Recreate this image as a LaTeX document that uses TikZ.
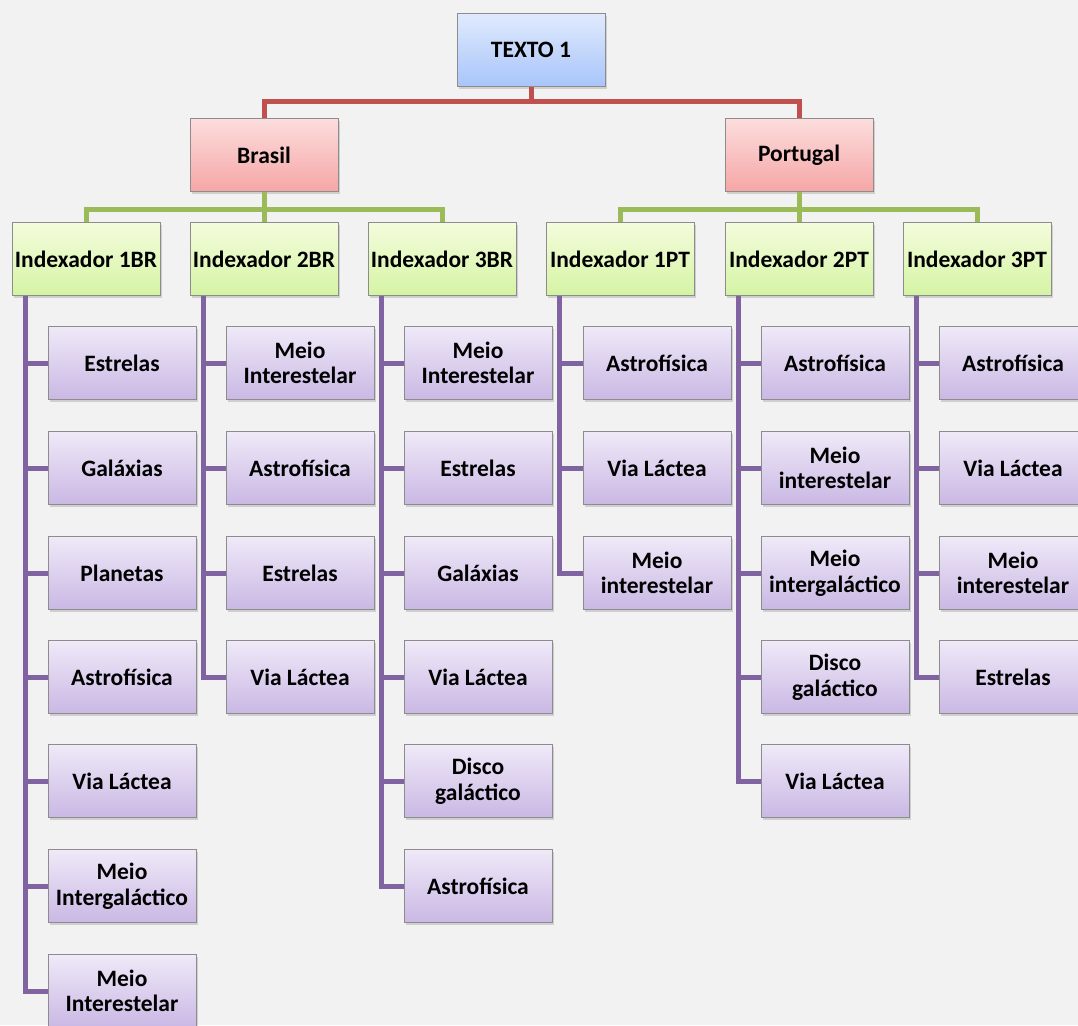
\documentclass[tikz,border=0pt]{standalone}
\usepackage{fontspec}
\setmainfont{Carlito}
\usetikzlibrary{positioning,shadows}

\definecolor{pagebg}{HTML}{F2F2F2}
\definecolor{boxgray}{HTML}{8C8C8C}
\definecolor{bluetop}{HTML}{E0EAFD}
\definecolor{bluebot}{HTML}{A8C5FA}
\definecolor{redtop}{HTML}{FCDDDD}
\definecolor{redbot}{HTML}{F6A6A6}
\definecolor{greentop}{HTML}{F4FCDC}
\definecolor{greenbot}{HTML}{D5F4A4}
\definecolor{purpletop}{HTML}{EFE9F8}
\definecolor{purplebot}{HTML}{CAB8E4}
\definecolor{redline}{HTML}{C0504D}
\definecolor{greenline}{HTML}{9BBB59}
\definecolor{purpleline}{HTML}{8064A2}

\tikzset{
  box/.style={draw=boxgray, line width=1pt, minimum width=148pt, minimum height=73pt,
    inner sep=1pt, align=center, font=\bfseries\fontsize{23.5}{25.5}\selectfont,
    drop shadow={shadow xshift=2pt, shadow yshift=-2.5pt, opacity=0.3}},
  rootbox/.style={box, top color=bluetop, bottom color=bluebot},
  countrybox/.style={box, top color=redtop, bottom color=redbot},
  indexbox/.style={box, top color=greentop, bottom color=greenbot},
  leaf/.style={box, top color=purpletop, bottom color=purplebot},
  redlink/.style={draw=redline, line width=5pt},
  greenlink/.style={draw=greenline, line width=5pt},
  purplelink/.style={draw=purpleline, line width=5pt}
}

\begin{document}
\begin{tikzpicture}[x=1pt, y=-1pt]

    \useasboundingbox (0,0) rectangle (1078,1025);
    \fill[pagebg] (0,0) rectangle (1078,1025);
    \clip (0,0) rectangle (1078,1025);

    % top levels
    \node[rootbox] (texto) at (531, 50) {TEXTO 1};
    \node[countrybox] (br) at (264, 155) {Brasil};
    \node[countrybox] (pt) at (799, 155) {Portugal};

    \node[indexbox] (i1br) at (86, 259) {Indexador 1BR};
    \node[indexbox] (i2br) at (264, 259) {Indexador 2BR};
    \node[indexbox] (i3br) at (442, 259) {Indexador 3BR};
    \node[indexbox] (i1pt) at (620, 259) {Indexador 1PT};
    \node[indexbox] (i2pt) at (799, 259) {Indexador 2PT};
    \node[indexbox] (i3pt) at (977, 259) {Indexador 3PT};

    % Indexador 1BR
    \node[leaf] (a1) at (122, 363) {Estrelas};
    \node[leaf] (a2) at (122, 468) {Galáxias};
    \node[leaf] (a3) at (122, 573) {Planetas};
    \node[leaf] (a4) at (122, 677) {Astrofísica};
    \node[leaf] (a5) at (122, 781) {Via Láctea};
    \node[leaf] (a6) at (122, 886) {Meio\\Intergaláctico};
    \node[leaf] (a7) at (122, 991) {Meio\\Interestelar};

    % Indexador 2BR
    \node[leaf] (b1) at (300, 363) {Meio\\Interestelar};
    \node[leaf] (b2) at (300, 468) {Astrofísica};
    \node[leaf] (b3) at (300, 573) {Estrelas};
    \node[leaf] (b4) at (300, 677) {Via Láctea};

    % Indexador 3BR
    \node[leaf] (c1) at (478, 363) {Meio\\Interestelar};
    \node[leaf] (c2) at (478, 468) {Estrelas};
    \node[leaf] (c3) at (478, 573) {Galáxias};
    \node[leaf] (c4) at (478, 677) {Via Láctea};
    \node[leaf] (c5) at (478, 781) {Disco\\galáctico};
    \node[leaf] (c6) at (478, 886) {Astrofísica};

    % Indexador 1PT
    \node[leaf] (d1) at (657, 363) {Astrofísica};
    \node[leaf] (d2) at (657, 468) {Via Láctea};
    \node[leaf] (d3) at (657, 573) {Meio\\interestelar};

    % Indexador 2PT
    \node[leaf] (e1) at (835, 363) {Astrofísica};
    \node[leaf] (e2) at (835, 468) {Meio\\interestelar};
    \node[leaf] (e3) at (835, 573) {Meio\\intergaláctico};
    \node[leaf] (e4) at (835, 677) {Disco\\galáctico};
    \node[leaf] (e5) at (835, 781) {Via Láctea};

    % Indexador 3PT
    \node[leaf] (f1) at (1013, 363) {Astrofísica};
    \node[leaf] (f2) at (1013, 468) {Via Láctea};
    \node[leaf] (f3) at (1013, 573) {Meio\\interestelar};
    \node[leaf] (f4) at (1013, 677) {Estrelas};

    % connectors
    \path[redlink]
        (texto.south) -- ++(0,14) -| (br.north)
        (texto.south) -- ++(0,14) -| (pt.north);

    \path[greenlink]
        (br.south) -- ++(0,17) -| (i1br.north)
        (br.south) -- (i2br.north)
        (br.south) -- ++(0,17) -| (i3br.north)
        (pt.south) -- ++(0,17) -| (i1pt.north)
        (pt.south) -- (i2pt.north)
        (pt.south) -- ++(0,17) -| (i3pt.north);

    \foreach \n in {a1,a2,a3,a4,a5,a6,a7}
        \draw[purplelink] (i1br.south west) ++(14,0) |- (\n.west);
    \foreach \n in {b1,b2,b3,b4}
        \draw[purplelink] (i2br.south west) ++(14,0) |- (\n.west);
    \foreach \n in {c1,c2,c3,c4,c5,c6}
        \draw[purplelink] (i3br.south west) ++(14,0) |- (\n.west);
    \foreach \n in {d1,d2,d3}
        \draw[purplelink] (i1pt.south west) ++(14,0) |- (\n.west);
    \foreach \n in {e1,e2,e3,e4,e5}
        \draw[purplelink] (i2pt.south west) ++(14,0) |- (\n.west);
    \foreach \n in {f1,f2,f3,f4}
        \draw[purplelink] (i3pt.south west) ++(14,0) |- (\n.west);

\end{tikzpicture}
\end{document}
